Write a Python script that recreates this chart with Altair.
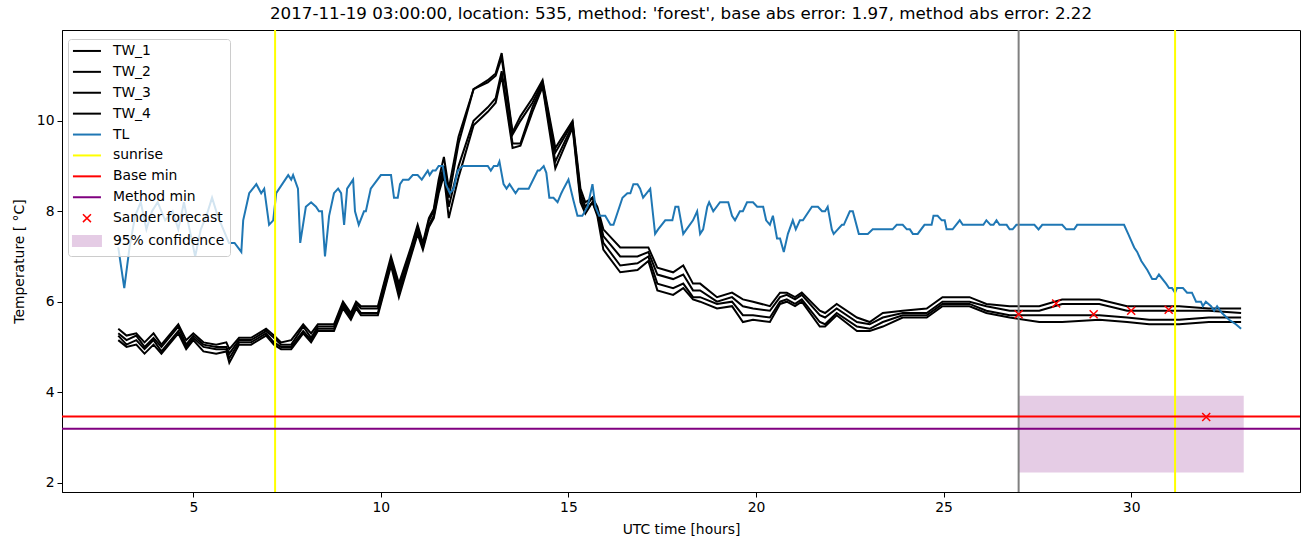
import altair as alt
import pandas as pd

# ---------------- data ----------------
tw_hours = [
    3.0, 3.22, 3.48, 3.70, 3.94, 4.15, 4.6, 4.81, 5.0, 5.27,
    5.61, 5.88, 5.96, 6.22, 6.54, 6.94, 7.15, 7.34, 7.61, 7.93,
    8.14, 8.32, 8.75, 8.99, 9.2, 9.34, 9.47, 9.92, 10.08, 10.27,
    10.48, 10.8, 10.98, 11.12, 11.28, 11.41, 11.54, 11.68, 11.81, 12.07,
    12.47, 12.85, 13.06, 13.22, 13.51, 13.72, 14.04, 14.31, 14.65, 15.11,
    15.32, 15.45, 15.64, 15.77, 15.93, 16.38, 16.84, 17.13, 17.37, 17.79,
    18.06, 18.32, 18.51, 18.96, 19.36, 19.65, 19.92, 20.37, 20.64, 20.82,
    21.04, 21.22, 21.7, 21.84, 22.15, 22.69, 23.03, 23.38, 23.91, 24.55,
    24.97, 25.69, 26.14, 26.76, 27.55, 28.16, 29.15, 29.89, 30.48, 31.28,
    32.07, 32.93,
]
tw_1 = [
    5.4, 5.25, 5.3, 5.1, 5.3, 5.05, 5.5, 5.15, 5.3, 5.1,
    5.05, 5.1, 4.95, 5.2, 5.2, 5.4, 5.25, 5.1, 5.15, 5.5,
    5.3, 5.5, 5.5, 6.0, 5.75, 6.0, 5.9, 5.9, 6.4, 7.0,
    6.4, 7.2, 7.7, 7.3, 7.85, 8.05, 8.7, 9.2, 8.5, 9.65,
    10.7, 10.9, 11.05, 11.5, 9.75, 10.1, 10.5, 10.9, 9.4, 10.0,
    8.5, 8.2, 8.3, 8.1, 7.6, 7.2, 7.2, 7.2, 6.75, 6.65,
    6.8, 6.4, 6.4, 6.1, 6.2, 6.05, 6.0, 5.9, 6.2, 6.2,
    6.1, 6.2, 5.8, 5.75, 5.95, 5.65, 5.55, 5.75, 5.8, 5.85,
    6.1, 6.1, 5.95, 5.9, 5.9, 6.05, 6.05, 5.9, 5.9, 5.9,
    5.85, 5.85,
]
tw_2 = [
    5.3, 5.15, 5.25, 5.0, 5.2, 5.0, 5.45, 5.05, 5.25, 5.05,
    5.0, 5.0, 4.85, 5.15, 5.15, 5.35, 5.2, 5.05, 5.05, 5.45,
    5.2, 5.45, 5.45, 5.95, 5.7, 5.95, 5.85, 5.85, 6.35, 6.9,
    6.3, 7.15, 7.65, 7.25, 7.8, 8.0, 8.6, 9.0, 8.3, 9.5,
    10.7, 10.85, 11.0, 11.4, 9.7, 10.0, 10.4, 10.85, 9.3, 9.95,
    8.4, 8.1, 8.3, 8.05, 7.45, 7.0, 7.0, 7.1, 6.6, 6.5,
    6.6, 6.25, 6.25, 6.0, 6.1, 5.9, 5.85, 5.8, 6.1, 6.15,
    6.05, 6.15, 5.7, 5.65, 5.85, 5.55, 5.5, 5.65, 5.75, 5.75,
    6.0, 6.0, 5.9, 5.8, 5.8, 5.95, 5.95, 5.8, 5.8, 5.8,
    5.8, 5.75,
]
tw_3 = [
    5.25, 5.05, 5.15, 4.95, 5.15, 4.9, 5.35, 5.0, 5.2, 5.0,
    4.95, 4.95, 4.75, 5.1, 5.1, 5.3, 5.1, 5.0, 5.0, 5.35,
    5.15, 5.4, 5.4, 5.9, 5.65, 5.9, 5.75, 5.75, 6.25, 6.85,
    6.2, 7.05, 7.55, 7.2, 7.7, 7.9, 8.5, 8.9, 8.1, 9.0,
    10.0, 10.3, 10.5, 11.1, 9.5, 9.5, 10.3, 10.8, 9.1, 9.9,
    8.3, 8.0, 8.2, 7.95, 7.3, 6.8, 6.85, 7.0, 6.4, 6.3,
    6.4, 6.1, 6.1, 5.95, 6.0, 5.7, 5.7, 5.65, 6.0, 6.05,
    5.95, 6.05, 5.55, 5.5, 5.75, 5.45, 5.4, 5.55, 5.7, 5.7,
    5.95, 5.95, 5.8, 5.7, 5.7, 5.7, 5.7, 5.65, 5.6, 5.6,
    5.65, 5.65,
]
tw_4 = [
    5.15, 5.0, 5.05, 4.85, 5.05, 4.85, 5.3, 4.95, 5.15, 4.9,
    4.85, 4.9, 4.65, 5.05, 5.05, 5.25, 5.05, 4.95, 4.95, 5.3,
    5.1, 5.35, 5.35, 5.85, 5.6, 5.85, 5.7, 5.7, 6.2, 6.8,
    6.1, 7.0, 7.5, 7.15, 7.65, 7.85, 8.4, 8.8, 7.85, 8.75,
    9.9, 10.2, 10.4, 11.0, 9.4, 9.45, 10.2, 10.75, 8.95, 9.85,
    8.2, 7.95, 8.2, 7.9, 7.15, 6.65, 6.7, 6.9, 6.25, 6.15,
    6.3, 6.05, 6.0, 5.85, 5.9, 5.55, 5.6, 5.55, 5.95, 6.0,
    5.9, 6.0, 5.45, 5.45, 5.7, 5.35, 5.35, 5.45, 5.65, 5.65,
    5.9, 5.9, 5.75, 5.65, 5.55, 5.55, 5.6, 5.55, 5.5, 5.5,
    5.55, 5.55,
]

tl_points = [
    (3.0, 7.2), (3.16, 6.3), (3.3, 7.2), (3.45, 7.9), (3.6, 8.2), (3.75, 7.6), (3.9, 8.0),
    (4.05, 8.2), (4.25, 7.8), (4.45, 8.0), (4.6, 7.6), (4.75, 8.2), (4.9, 7.6), (5.05, 7.0),
    (5.2, 7.6), (5.35, 7.9), (5.5, 8.3), (5.65, 7.9), (5.8, 7.6), (5.95, 7.3), (6.1, 7.3),
    (6.28, 7.1), (6.33, 7.8), (6.49, 8.4), (6.68, 8.6), (6.81, 8.4), (6.89, 8.5), (7.02, 7.7),
    (7.13, 7.8), (7.21, 8.4), (7.53, 8.8), (7.61, 8.7), (7.66, 8.8), (7.79, 8.5), (7.85, 7.3),
    (8.0, 8.1), (8.14, 8.2), (8.27, 8.1), (8.35, 8.0), (8.43, 8.0), (8.51, 7.0), (8.62, 7.9),
    (8.75, 8.4), (8.86, 8.5), (8.94, 8.4), (9.02, 7.7), (9.1, 8.5), (9.26, 8.7), (9.31, 8.0),
    (9.41, 7.7), (9.55, 8.0), (9.6, 8.0), (9.73, 8.5), (10.0, 8.8), (10.27, 8.8), (10.35, 8.3),
    (10.45, 8.3), (10.51, 8.6), (10.59, 8.7), (10.74, 8.7), (10.85, 8.8), (10.98, 8.8),
    (11.09, 8.7), (11.25, 8.9), (11.3, 8.8), (11.38, 8.9), (11.46, 8.9), (11.54, 9.0),
    (11.65, 9.0), (11.73, 8.6), (11.84, 8.4), (11.94, 8.5), (12.05, 8.9), (12.18, 9.0),
    (12.85, 9.0), (12.93, 8.9), (13.01, 9.0), (13.11, 9.0), (13.16, 9.1), (13.27, 8.6),
    (13.35, 8.5), (13.43, 8.6), (13.59, 8.4), (13.67, 8.5), (13.94, 8.5), (14.18, 8.9),
    (14.23, 8.9), (14.34, 9.0), (14.41, 8.85), (14.49, 8.3), (14.6, 8.3), (14.71, 8.2),
    (14.81, 8.4), (14.87, 8.5), (15.0, 8.7), (15.13, 8.25), (15.24, 7.9), (15.37, 7.9),
    (15.51, 8.1), (15.64, 8.6), (15.72, 8.1), (15.82, 7.9), (15.98, 7.9), (16.12, 7.7),
    (16.2, 7.7), (16.44, 8.3), (16.57, 8.4), (16.65, 8.4), (16.73, 8.6), (16.84, 8.6),
    (16.91, 8.5), (16.99, 8.3), (17.18, 8.5), (17.31, 7.5), (17.39, 7.6), (17.58, 7.8),
    (17.77, 7.8), (17.85, 8.1), (17.93, 8.1), (18.06, 7.5), (18.32, 7.8), (18.43, 8.0),
    (18.51, 7.5), (18.59, 7.6), (18.7, 8.1), (18.75, 8.2), (18.86, 8.0), (19.04, 8.2),
    (19.26, 8.2), (19.36, 7.9), (19.44, 7.8), (19.57, 8.0), (19.65, 8.0), (19.76, 8.2),
    (19.92, 8.2), (20.03, 8.1), (20.19, 8.1), (20.27, 7.8), (20.37, 7.7), (20.45, 7.9),
    (20.56, 7.4), (20.64, 7.4), (20.74, 7.1), (20.85, 7.5), (20.98, 7.8), (21.06, 7.6),
    (21.17, 7.8), (21.25, 7.8), (21.49, 8.1), (21.65, 8.1), (21.76, 8.0), (21.84, 8.0),
    (21.91, 8.1), (22.02, 7.6), (22.07, 7.5), (22.18, 7.6), (22.29, 7.7), (22.34, 7.7),
    (22.5, 8.0), (22.58, 8.0), (22.74, 7.5), (22.98, 7.5), (23.11, 7.6), (23.64, 7.6),
    (23.75, 7.7), (23.91, 7.7), (24.02, 7.6), (24.1, 7.6), (24.18, 7.5), (24.31, 7.5),
    (24.49, 7.7), (24.68, 7.7), (24.73, 7.9), (24.84, 7.9), (24.95, 7.8), (25.03, 7.8),
    (25.08, 7.6), (25.24, 7.6), (25.43, 7.8), (25.51, 7.7), (26.06, 7.7), (26.14, 7.8),
    (26.25, 7.7), (26.33, 7.7), (26.41, 7.8), (26.49, 7.7), (26.68, 7.7), (26.76, 7.6),
    (26.84, 7.6), (26.94, 7.7), (27.42, 7.7), (27.53, 7.6), (27.63, 7.7), (28.16, 7.7),
    (28.27, 7.6), (28.48, 7.6), (28.56, 7.7), (29.81, 7.7), (29.92, 7.5), (30.08, 7.2),
    (30.16, 7.1), (30.27, 6.9), (30.43, 6.7), (30.56, 6.5), (30.66, 6.5), (30.74, 6.6),
    (30.93, 6.4), (31.01, 6.3), (31.09, 6.3), (31.17, 6.2), (31.22, 6.3), (31.38, 6.3),
    (31.49, 6.2), (31.62, 6.2), (31.73, 6.0), (31.86, 6.0), (31.91, 5.9), (31.99, 6.0),
    (32.13, 5.9), (32.21, 5.8), (32.29, 5.9), (32.42, 5.75), (32.61, 5.6), (32.79, 5.5),
    (32.93, 5.4),
]

sunrise_hours = [7.18, 31.17]
forecast_hour = [27.0]
base_min = [3.46]
method_min = [3.19]
sander_hours = [27, 28, 29, 30, 31, 32]
sander_temp = [5.72, 5.96, 5.72, 5.80, 5.82, 3.45]
conf_hours = [27.0, 33.0]
conf_temp = [2.22, 3.92]

series_names = ["TW_1", "TW_2", "TW_3", "TW_4", "TL", "sunrise", "Base min",
                "Method min", "Sander forecast", "95% confidence"]
series_colors = ["black", "black", "black", "black", "#1f77b4", "yellow", "red",
                 "purple", "red", "#e5cce5"]

title_text = ("2017-11-19 03:00:00, location: 535, method: 'forest', "
              "base abs error: 1.97, method abs error: 2.22")

# ---------------- tables ----------------
tw_rows = []
for name, vals in zip(["TW_1", "TW_2", "TW_3", "TW_4"], [tw_1, tw_2, tw_3, tw_4]):
    for h, v in zip(tw_hours, vals):
        tw_rows.append({"hour": h, "temp": v, "series": name})
tw_df = pd.DataFrame(tw_rows)
tl_df = pd.DataFrame({"hour": [p[0] for p in tl_points],
                      "temp": [p[1] for p in tl_points], "series": "TL"})
sun_df = pd.DataFrame({"hour": sunrise_hours, "series": "sunrise"})
fc_df = pd.DataFrame({"hour": forecast_hour})
min_df = pd.DataFrame({"temp": base_min + method_min,
                       "series": ["Base min", "Method min"]})
sander_df = pd.DataFrame({"hour": sander_hours, "temp": sander_temp,
                          "series": "Sander forecast"})
conf_df = pd.DataFrame({"start": [conf_hours[0]], "end": [conf_hours[1]],
                        "low": [conf_temp[0]], "high": [conf_temp[1]],
                        "series": ["95% confidence"]})

# ---------------- scales / guides ----------------
FONT = "DejaVu Sans"
FS = 13.9
xscale = alt.Scale(domain=[1.5, 34.5], nice=False, zero=False)
yscale = alt.Scale(domain=[1.79, 12.01], nice=False, zero=False)
xaxis = alt.Axis(values=[5, 10, 15, 20, 25, 30], title="UTC time [hours]", format="d")
yaxis = alt.Axis(values=[2, 4, 6, 8, 10], title="Temperature [ °C]", format="d")

cross_small = "M-0.57,-0.57L0.57,0.57M-0.57,0.57L0.57,-0.57"
rect_path = "M-2,-0.71H2V0.71H-2Z"
line_path = "M-2,0H2"
shape_expr = ("datum.value === 'Sander forecast' ? '%s' : (datum.value === '95%% confidence' ? '%s' : '%s')"
              % (cross_small, rect_path, line_path))
names_js = "[" + ",".join("'%s'" % n for n in series_names) + "]"
colors_js = "[" + ",".join("'%s'" % c for c in series_colors) + "]"
stroke_expr = "%s[indexof(%s, datum.value)]" % (colors_js, names_js)
fill_expr = "datum.value === '95% confidence' ? '#e5cce5' : 'transparent'"
sw_expr = "datum.value === 'Sander forecast' ? 1.5 : 2"

legend = alt.Legend(
    title=None, orient="none", legendX=6, legendY=9,
    fillColor="rgba(255,255,255,0.8)", strokeColor="#cccccc", cornerRadius=3,
    padding=5, labelFont=FONT, labelFontSize=FS, labelColor="black",
    symbolSize=196, rowPadding=5.9, labelOffset=19, symbolOffset=7,
    symbolType={"expr": shape_expr},
    symbolStrokeColor={"expr": stroke_expr},
    symbolFillColor={"expr": fill_expr},
    symbolStrokeWidth={"expr": sw_expr},
    symbolOpacity=1,
)
color = alt.Color("series:N", scale=alt.Scale(domain=series_names, range=series_colors),
                  legend=legend)

X = alt.X("hour:Q", scale=xscale, axis=xaxis)
Y = alt.Y("temp:Q", scale=yscale, axis=yaxis)

conf_layer = alt.Chart(conf_df).mark_rect().encode(
    x=alt.X("start:Q", scale=xscale, axis=xaxis), x2="end:Q",
    y=alt.Y("low:Q", scale=yscale, axis=yaxis), y2="high:Q", color=color)
tw_layer = alt.Chart(tw_df).mark_line(strokeWidth=2).encode(
    x=X, y=Y, color=color, detail="series:N", order="hour:Q")
tl_layer = alt.Chart(tl_df).mark_line(strokeWidth=2).encode(
    x=X, y=Y, color=color, order="hour:Q")
sun_layer = alt.Chart(sun_df).mark_rule(strokeWidth=2).encode(x=X, color=color)
fc_layer = alt.Chart(fc_df).mark_rule(strokeWidth=2, color="gray").encode(x=X)
min_layer = alt.Chart(min_df).mark_rule(strokeWidth=2).encode(y=Y, color=color)
sander_layer = alt.Chart(sander_df).mark_point(
    shape="M-1,-1L1,1M-1,1L1,-1", size=64, filled=False, strokeWidth=1.5, opacity=1
).encode(x=X, y=Y, color=color)

chart = alt.layer(
    conf_layer, tw_layer, tl_layer, sun_layer, fc_layer, min_layer, sander_layer
).properties(
    width=1238, height=462,
    title=alt.TitleParams(title_text),
    autosize=alt.AutoSizeParams(type="none"),
    padding={"left": 62, "top": 30, "right": 10, "bottom": 55},
).configure_view(
    stroke="black", strokeWidth=1
).configure_axis(
    grid=False, domainColor="black", tickColor="black", labelColor="black",
    titleColor="black", labelFont=FONT, titleFont=FONT, labelFontSize=FS,
    titleFontSize=FS, titleFontWeight="normal", tickSize=5, labelPadding=3,
    domainWidth=1, tickWidth=1,
).configure_axisX(titlePadding=9).configure_axisY(titlePadding=10).configure_title(
    font=FONT, fontSize=16.7, fontWeight="normal", anchor="middle", offset=6, color="black"
)

chart.save("out.html", embed_options={"renderer": "svg", "actions": False})
